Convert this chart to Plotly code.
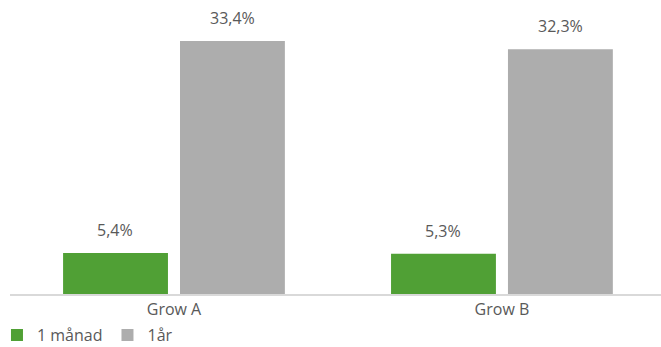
import plotly.graph_objects as go

categories = ["Grow A", "Grow B"]
series_names = ["1 månad", "1år"]
month_values = [5.4, 5.3]
year_values = [33.4, 32.3]
colors = ["#50A035", "#ADADAD"]

def fmt(v):
    return f"{v:.1f}".replace(".", ",") + "%"

fig = go.Figure()
for name, vals, col in zip(series_names, [month_values, year_values], colors):
    fig.add_trace(go.Bar(
        name=name, x=categories, y=vals, marker_color=col,
        marker_line_width=0,
        textposition="none",
        hoverinfo="skip",
    ))

# value labels
offsets = [-58.5, 58.5]
for vals, off in zip([month_values, year_values], offsets):
    for c, v in zip(categories, vals):
        fig.add_annotation(x=c, y=v, text=fmt(v), showarrow=False,
                           xref="x", yref="y", xshift=off, yshift=10,
                           yanchor="bottom",
                           font=dict(size=16, color="#595959"))

fig.update_layout(
    width=661, height=347,
    margin=dict(l=10, r=0, t=0, b=53, autoexpand=False),
    paper_bgcolor="white", plot_bgcolor="white",
    font=dict(family="Open Sans, Liberation Sans, Arial, sans-serif", size=16, color="#595959"),
    barmode="group", bargap=0.287, bargroupgap=0.103,
    showlegend=True,
    legend=dict(orientation="h", x=-0.02, xanchor="left", yref="paper", y=-0.14,
                yanchor="middle", font=dict(size=16, color="#595959"),
                itemwidth=30, traceorder="normal", bgcolor="rgba(0,0,0,0)"),
    xaxis=dict(range=[-0.5, 1.485], showline=True, linecolor="#D9D9D9", linewidth=1.5,
               ticks="", showgrid=False, automargin=False,
               tickfont=dict(size=16, color="#595959")),
    yaxis=dict(range=[0, 38.8], visible=False, showgrid=False, zeroline=False),
)

fig.write_html("out.html", config={"displayModeBar": False},
               post_script="document.body.style.margin='0';")
